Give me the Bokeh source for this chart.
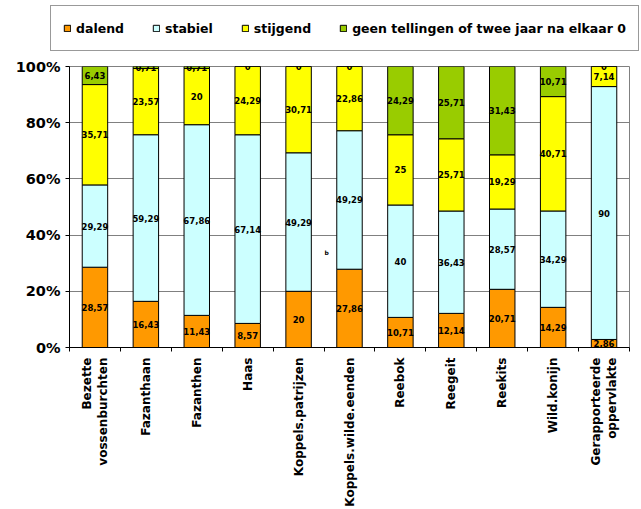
from math import pi
from bokeh.plotting import figure
from bokeh.layouts import column
from bokeh.models import (Range1d, FixedTicker, PrintfTickFormatter, Legend,
                          LegendItem, ColumnDataSource)
from bokeh.core.properties import value
from bokeh.embed import file_html
from bokeh.resources import INLINE

# ---------------- data ----------------
categories = ["Bezette\nvossenburchten", "Fazanthaan", "Fazanthen", "Haas",
              "Koppels.patrijzen", "Koppels.wilde.eenden", "Reebok", "Reegeit",
              "Reekits", "Wild.konijn", "Gerapporteerde\noppervlakte"]
dalend = [28.57, 16.43, 11.43, 8.57, 20, 27.86, 10.71, 12.14, 20.71, 14.29, 2.86]
stabiel = [29.29, 59.29, 67.86, 67.14, 49.29, 49.29, 40, 36.43, 28.57, 34.29, 90]
stijgend = [35.71, 23.57, 20, 24.29, 30.71, 22.86, 25, 25.71, 19.29, 40.71, 7.14]
geen = [6.43, 0.71, 0.71, 0, 0, 0, 24.29, 25.71, 31.43, 10.71, 0]
series_names = ["dalend", "stabiel", "stijgend",
                "geen tellingen of twee jaar na elkaar 0"]
series_keys = ["dalend", "stabiel", "stijgend", "geen"]
colors = ["#FF9900", "#CCFFFF", "#FFFF00", "#99CC00"]
y_ticks = [0, 20, 40, 60, 80, 100]

FONT = "DejaVu Sans"

n = len(categories)
xs = [i + 0.5 for i in range(n)]
source = ColumnDataSource(dict(x=xs, dalend=dalend, stabiel=stabiel,
                               stijgend=stijgend, geen=geen))

# ---------------- legend strip ----------------
lg = figure(width=641, height=58, output_backend="svg", toolbar_location=None,
            x_range=Range1d(0, 1), y_range=Range1d(0, 1),
            x_axis_type=None, y_axis_type=None, min_border=0)
if "frame_align" in lg.properties():
    lg.frame_align = False
lg.grid.visible = False
lg.outline_line_color = None
lg.background_fill_color = "white"
lg.border_fill_color = "white"
# hidden renderers that only supply the legend swatches
swatch_src = ColumnDataSource(dict(x=[0.5], top=[1]))
dummies = []
for c in colors:
    r = lg.vbar(x="x", top="top", width=0.5, fill_color=c, line_color="black",
                source=swatch_src)
    r.visible = False
    dummies.append(r)
legend = Legend(items=[LegendItem(label=name, renderers=[r])
                       for name, r in zip(series_names, dummies)],
                orientation="horizontal", location=(50, 7), padding=12,
                spacing=28, glyph_width=8, glyph_height=8, label_standoff=5,
                label_text_font=FONT, label_text_font_style="bold",
                label_text_font_size="12.5px", label_text_color="black",
                label_height=20, inactive_fill_alpha=0,
                border_line_color="#333333", border_line_width=1,
                background_fill_color="white", background_fill_alpha=1, margin=0)
lg.add_layout(legend)

# ---------------- main chart ----------------
p = figure(width=641, height=451, output_backend="svg", toolbar_location=None,
           x_range=Range1d(0, n), y_range=Range1d(0, 100),
           min_border_left=69, min_border_right=12, min_border_top=8,
           min_border_bottom=162)
if "frame_align" in p.properties():
    p.frame_align = False
p.background_fill_color = "white"
p.border_fill_color = "white"
p.outline_line_color = "#808080"

p.vbar_stack(series_keys, x="x", width=0.5, color=colors,
             line_color="black", line_width=1, source=source)

# value labels
lx, ly, lt = [], [], []
bottoms = [0.0] * n
for key in series_keys:
    vals = source.data[key]
    for i, v in enumerate(vals):
        lx.append(xs[i])
        ly.append(bottoms[i] + v / 2.0)
        lt.append(f"{v:g}".replace(".", ","))
        bottoms[i] += v
p.text(x=lx, y=ly, text=lt, text_align="center", text_baseline="middle",
       text_font=value(FONT), text_font_style="bold", text_font_size="8.5px",
       text_color="black")

# stray small mark in the original
p.text(x=[5.05], y=[33.8], text=["b"], text_font=value(FONT), text_font_style="bold",
       text_font_size="6px", text_align="center", text_baseline="middle")

# grid / axes
p.xgrid.visible = False
p.ygrid.grid_line_color = "#808080"
p.ygrid.grid_line_width = 1
p.yaxis.ticker = FixedTicker(ticks=y_ticks)
p.yaxis.formatter = PrintfTickFormatter(format="%d%%")
p.yaxis.minor_tick_line_color = None
p.yaxis.major_tick_in = 0
p.yaxis.major_tick_out = 4
p.yaxis.axis_line_color = "black"
p.yaxis.major_tick_line_color = "black"
p.yaxis.major_label_text_font = FONT
p.yaxis.major_label_text_font_style = "bold"
p.yaxis.major_label_text_font_size = "14.5px"
p.yaxis.major_label_text_color = "black"
p.yaxis.major_label_standoff = 5

p.xaxis.ticker = FixedTicker(ticks=xs, minor_ticks=list(range(n + 1)))
p.xaxis.major_label_overrides = {x: c for x, c in zip(xs, categories)}
p.xaxis.major_label_orientation = pi / 2
p.xaxis.major_tick_line_color = None
p.xaxis.major_tick_in = 0
p.xaxis.major_tick_out = 4
p.xaxis.minor_tick_line_color = "black"
p.xaxis.minor_tick_in = 0
p.xaxis.minor_tick_out = 4
p.xaxis.axis_line_color = "black"
p.xaxis.major_label_standoff = 6
p.xaxis.major_label_text_font = FONT
p.xaxis.major_label_text_font_style = "bold"
p.xaxis.major_label_text_font_size = "12px"
p.xaxis.major_label_text_color = "black"

layout = column(lg, p, spacing=0)
open("out.html", "w").write(file_html(layout, INLINE))
